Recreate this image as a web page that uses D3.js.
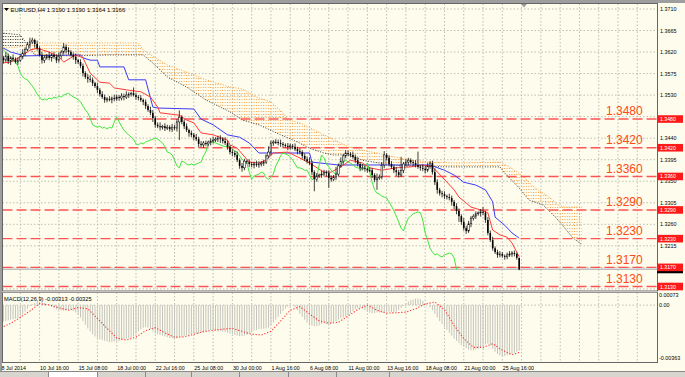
<!DOCTYPE html>
<html><head><meta charset="utf-8">
<script src="https://cdn.jsdelivr.net/npm/d3@7"></script>
<style>body{margin:0;background:#fff;overflow:hidden}svg{display:block}text{font-family:"Liberation Sans",Arial,sans-serif}</style>
</head><body>
<svg id="c" width="685" height="377"></svg>
<script>
// ---------- DATA (EURUSD H4, 8 Jul – 26 Aug 2014) ----------
const symbol = "EURUSD,H4";
const headerOHLC = "1.3190 1.3190 1.3164 1.3166";
const firstOpen = 1.3606;
const closes = [
1.3608,1.3603,1.3612,1.3601,1.3608,1.3605,1.3599,1.3603,1.3610,1.3618,1.3626,1.3635,
1.3641,1.3645,1.3637,1.3628,1.3614,1.3603,1.3608,1.3612,1.3608,1.3614,1.3610,1.3603,
1.3612,1.3620,1.3631,1.3624,1.3620,1.3614,1.3610,1.3603,1.3599,1.3591,1.3576,1.3568,
1.3564,1.3562,1.3555,1.3549,1.3541,1.3532,1.3526,1.3520,1.3522,1.3520,1.3524,1.3522,
1.3526,1.3524,1.3528,1.3526,1.3530,1.3532,1.3534,1.3530,1.3526,1.3524,1.3520,1.3516,
1.3507,1.3499,1.3493,1.3482,1.3468,1.3465,1.3463,1.3465,1.3461,1.3463,1.3459,1.3463,
1.3461,1.3474,1.3484,1.3474,1.3465,1.3457,1.3451,1.3447,1.3442,1.3438,1.3428,1.3426,
1.3430,1.3428,1.3432,1.3434,1.3436,1.3438,1.3440,1.3438,1.3434,1.3430,1.3422,1.3411,
1.3409,1.3405,1.3394,1.3382,1.3378,1.3392,1.3390,1.3386,1.3384,1.3386,1.3384,1.3386,
1.3388,1.3390,1.3403,1.3411,1.3430,1.3432,1.3432,1.3430,1.3428,1.3426,1.3424,1.3422,
1.3424,1.3422,1.3417,1.3413,1.3411,1.3403,1.3396,1.3392,1.3388,1.3369,1.3354,1.3361,
1.3363,1.3365,1.3369,1.3367,1.3357,1.3354,1.3359,1.3365,1.3382,1.3392,1.3403,1.3409,
1.3407,1.3405,1.3401,1.3394,1.3386,1.3378,1.3378,1.3376,1.3373,1.3373,1.3363,1.3353,
1.3357,1.3359,1.3384,1.3405,1.3399,1.3386,1.3380,1.3373,1.3369,1.3363,1.3373,1.3386,
1.3390,1.3394,1.3390,1.3388,1.3384,1.3380,1.3378,1.3376,1.3373,1.3382,1.3388,1.3369,
1.3348,1.3332,1.3325,1.3323,1.3319,1.3317,1.3315,1.3307,1.3298,1.3288,1.3277,1.3265,
1.3252,1.3246,1.3261,1.3273,1.3277,1.3282,1.3284,1.3286,1.3284,1.3269,1.3242,1.3227,
1.3210,1.3202,1.3196,1.3198,1.3194,1.3192,1.3196,1.3198,1.3200,1.3198,1.3190,1.3166];
// upper / lower shadow length in pips
const wickUp = [
6,4,8,5,3,7,4,6,5,8,4,6, 9,5,3,7,4,6,5,4,8,3,6,5, 7,4,8,5,6,4,5,7,3,6,5,4,
6,8,5,3,7,4,6,5,4,6,3,7, 5,4,6,5,8,4,3,12,5,4,6,3, 5,4,7,6,4,5,8,3,6,5,4,7,
5,6,14,4,5,6,3,5,4,7,5,6, 4,5,3,6,7,4,5,6,4,8,5,3, 6,5,7,4,6,5,3,6,4,5,7,6,
4,5,3,12,5,4,6,5,7,4,3,6, 5,4,7,5,6,4,5,6,8,5,4,6, 3,7,5,4,6,5,4,15,5,8,4,6,
5,4,7,5,6,4,8,5,3,6,5,4, 9,5,6,8,4,5,6,4,7,5,28,4, 6,5,4,4,6,28,4,7,5,6,4,5,
8,6,4,5,6,3,7,5,4,6,5,4, 8,5,6,4,4,5,3,6,10,4,6,5, 7,4,5,6,4,3,5,6,4,5,3,0];
const wickDn = [
5,7,4,6,8,5,3,6,4,5,7,4, 6,4,8,5,3,7,6,4,5,8,4,6, 5,6,4,7,5,3,6,8,4,5,7,4,
8,5,6,4,7,5,4,6,5,3,7,5, 4,6,5,7,4,6,5,3,6,5,4,7, 6,4,5,8,6,4,7,5,6,4,5,6,
4,7,38,5,6,4,8,5,6,4,7,5, 6,4,5,7,5,4,6,8,5,4,6,5, 7,5,4,6,8,5,4,6,5,7,4,6,
5,6,4,5,7,6,4,5,6,5,4,7, 6,5,4,7,5,6,4,5,4,6,25,5, 4,6,5,7,21,5,4,6,5,4,7,5,
5,5,4,6,5,7,4,6,5,4,6,5, 21,4,5,7,6,5,4,6,8,5,4,6, 5,7,4,6,5,4,6,5,7,4,6,5,
6,8,5,7,6,5,5,8,6,7,12,6, 5,6,4,7,5,6,4,8,5,6,5,4, 5,4,6,5,4,6,5,4,6,5,4,2];
// Ichimoku lines: [bar, price]
const tenkan = [[0,1.3597],[4,1.3599],[8,1.3610],[12,1.3624],[15,1.3628],[20,1.3620],[24,1.3610],[26,1.3599],[31,1.3614],[34,1.3608],[37,1.3576],[41,1.3557],[45,1.3555],[47,1.3545],[52,1.3541],[58,1.3537],[62,1.3526],[65,1.3505],[66,1.3493],[74,1.3488],[77,1.3478],[80,1.3472],[83,1.3451],[88,1.3447],[94,1.3436],[95,1.3426],[98,1.3419],[103,1.3390],[107,1.3388],[110,1.3394],[113,1.3409],[119,1.3411],[123,1.3401],[128,1.3388],[134,1.3369],[137,1.3369],[141,1.3380],[145,1.3394],[150,1.3388],[153,1.3378],[158,1.3373],[164,1.3378],[170,1.3380],[175,1.3384],[179,1.3380],[183,1.3359],[188,1.3332],[190,1.3317],[195,1.3296],[199,1.3290],[202,1.3284],[204,1.3248],[207,1.3238],[210,1.3233],[212,1.3221],[215,1.3192]];
const kijun = [[0,1.3631],[4,1.3620],[10,1.3612],[33,1.3614],[34,1.3608],[37,1.3603],[40,1.3603],[41,1.3589],[51,1.3589],[53,1.3562],[60,1.3562],[63,1.3505],[65,1.3503],[80,1.3501],[83,1.3480],[88,1.3468],[94,1.3447],[99,1.3442],[103,1.3430],[107,1.3409],[128,1.3409],[129,1.3390],[140,1.3384],[178,1.3384],[184,1.3373],[188,1.3363],[192,1.3348],[197,1.3342],[201,1.3332],[204,1.3307],[205,1.3275],[209,1.3258],[212,1.3242],[215,1.3231]];
const spanA = [[0,1.3660],[8,1.3656],[11,1.3635],[14,1.3614],[30,1.3612],[45,1.3614],[59,1.3614],[63,1.3597],[69,1.3568],[77,1.3547],[85,1.3520],[95,1.3495],[100,1.3478],[107,1.3468],[116,1.3447],[123,1.3432],[128,1.3419],[134,1.3409],[138,1.3405],[144,1.3405],[150,1.3394],[157,1.3388],[166,1.3382],[186,1.3380],[207,1.3380],[209,1.3367],[215,1.3336],[219,1.3311],[225,1.3300],[230,1.3275],[233,1.3258],[237,1.3233],[241,1.3217]];
const spanB = [[0,1.3628],[8,1.3631],[12,1.3637],[14,1.3639],[57,1.3639],[59,1.3624],[69,1.3593],[77,1.3578],[85,1.3562],[95,1.3547],[100,1.3543],[106,1.3526],[112,1.3516],[117,1.3493],[119,1.3478],[124,1.3472],[134,1.3447],[141,1.3430],[144,1.3422],[150,1.3415],[156,1.3409],[163,1.3401],[170,1.3394],[178,1.3390],[190,1.3388],[207,1.3390],[211,1.3380],[217,1.3359],[221,1.3338],[225,1.3325],[229,1.3311],[231,1.3300],[234,1.3296],[241,1.3296]];
const chikouShift = 26;
// MACD(12,26,9) main histogram, in 1e-5
const macdHist = [
-115,-112,-108,-104,-100,-97,-93,-88,-80,-65,-45,-25,
-8,6,15,22,24,20,14,6,-4,-12,-20,-28,
-33,-36,-38,-36,-33,-35,-40,-50,-65,-85,-110,-135,
-160,-180,-200,-215,-225,-235,-240,-245,-250,-255,-255,-250,
-248,-245,-240,-235,-232,-230,-225,-215,-200,-180,-165,-155,
-150,-155,-165,-180,-195,-200,-205,-210,-215,-220,-225,-228,
-230,-228,-222,-218,-212,-208,-205,-200,-195,-195,-195,-190,
-185,-180,-175,-172,-170,-175,-180,-180,-182,-185,-190,-195,
-200,-205,-210,-212,-212,-210,-205,-195,-185,-175,-170,-165,
-165,-162,-160,-155,-140,-120,-100,-80,-60,-40,-25,-12,
-5,-3,-15,-35,-60,-80,-100,-120,-130,-140,-145,-145,
-140,-130,-125,-130,-135,-130,-120,-110,-100,-90,-85,-80,
-70,-55,-40,-28,-20,-18,-25,-35,-45,-52,-55,-55,
-50,-50,-52,-50,-45,-45,-48,-50,-45,-35,-20,-5,
10,25,35,40,45,45,40,30,15,0,-15,-35,
-60,-85,-110,-130,-150,-170,-190,-210,-230,-245,-260,-275,
-285,-295,-305,-310,-310,-305,-300,-290,-280,-270,-265,-280,
-300,-320,-335,-345,-350,-350,-345,-340,-335,-328,-320,-313];
const macdSignal = [[0,-155],[4,-125],[8,-85],[12,-40],[16,10],[20,2],[24,-18],[28,-35],[32,-17],[36,-25],[40,-92],[44,-159],[48,-225],[52,-240],[56,-220],[60,-175],[64,-155],[68,-190],[72,-220],[76,-218],[80,-200],[84,-182],[88,-173],[92,-165],[96,-160],[100,-180],[104,-200],[108,-205],[112,-180],[116,-110],[120,-35],[124,-10],[128,-60],[132,-108],[136,-124],[140,-118],[144,-75],[148,-30],[152,0],[156,-35],[160,-55],[164,-52],[168,-48],[172,-25],[176,8],[180,21],[184,-30],[188,-140],[192,-230],[196,-290],[200,-290],[204,-265],[208,-310],[212,-340],[215,-325]];
const macdTitle = "MACD(12,26,9) -0.00313 -0.00325";
const macdTicks = [["0.00073",0.00073],["0.00",0],["-0.00363",-0.00363]];
const timeLabels = ["8 Jul 2014","10 Jul 16:00","15 Jul 08:00","18 Jul 00:00","22 Jul 16:00","25 Jul 08:00","30 Jul 00:00","1 Aug 16:00","6 Aug 08:00","11 Aug 00:00","13 Aug 16:00","18 Aug 08:00","21 Aug 00:00","25 Aug 16:00"];
const labelEvery = 16, gridEvery = 8;
const priceTicks = [1.3710,1.3665,1.3620,1.3575,1.3530,1.3485,1.3440,1.3395,1.3350,1.3305,1.3260,1.3215,1.3170];
const levels = [1.3480,1.3420,1.3360,1.3290,1.3230,1.3170,1.3130];
const bid = 1.3166;

// ---------- DRAWING ----------
const svg = d3.select("#c");
const W = 685, H = 377;
const L = 2.5, R = 657.5, mTop = 3.5, mBot = 291, dTop = 292.5, dBot = 362.5;
const bg = "#FEFCEC";
const x = d3.scaleLinear().domain([0, 215]).range([1, 519.2]);
const y = d3.scaleLinear().domain([1.3710, 1.3130]).range([9, 286.5]);
const yM = d3.scaleLinear().domain([0.00073, -0.00363]).range([294.5, 358]);
const pip = 0.0001;
const fmt = d3.format(".4f");

svg.append("rect").attr("width", W).attr("height", H).attr("fill", "#9E9E9E");
svg.append("rect").attr("x", 2).attr("y", 3).attr("width", W - 2).attr("height", 368).attr("fill", bg);
// bottom tab bar
svg.append("rect").attr("x", 0).attr("y", 371).attr("width", W).attr("height", 6).attr("fill", "#D8D5CF");
svg.append("line").attr("x1", 0).attr("x2", W).attr("y1", 371.5).attr("y2", 371.5).attr("stroke", "#8A8A8A");
svg.append("rect").attr("x", 48).attr("y", 372).attr("width", 49).attr("height", 5).attr("fill", "#fff");
[48, 97, 145, 191, 239, 288, 336, 389].forEach(v => svg.append("line").attr("x1", v + .5).attr("x2", v + .5).attr("y1", 372).attr("y2", 377).attr("stroke", "#8A8A8A"));

const defs = svg.append("defs");
defs.append("clipPath").attr("id", "cm").append("rect").attr("x", L).attr("y", mTop).attr("width", R - L).attr("height", mBot - mTop);
defs.append("clipPath").attr("id", "cd").append("rect").attr("x", L).attr("y", dTop).attr("width", R - L).attr("height", dBot - dTop);
const pO = defs.append("pattern").attr("id", "hO").attr("patternUnits", "userSpaceOnUse").attr("x", 0.5).attr("y", 0).attr("width", 2.41).attr("height", 3);
pO.append("rect").attr("width", 1).attr("height", 1).attr("fill", "#F7A24A");
const pD = defs.append("pattern").attr("id", "hD").attr("patternUnits", "userSpaceOnUse").attr("x", 0.5).attr("y", 0).attr("width", 2.41).attr("height", 3);
pD.append("rect").attr("width", 1).attr("height", 1).attr("fill", "#333");
// clip regions above / below span A
const aAbove = "M" + x(spanA[0][0]) + "," + 0 + spanA.map(d => "L" + x(d[0]) + "," + y(d[1])).join("") + "L" + x(spanA[spanA.length - 1][0]) + ",0Z";
const aBelow = "M" + x(spanA[0][0]) + "," + 400 + spanA.map(d => "L" + x(d[0]) + "," + y(d[1])).join("") + "L" + x(spanA[spanA.length - 1][0]) + ",400Z";
defs.append("clipPath").attr("id", "ab").append("path").attr("d", aAbove);
defs.append("clipPath").attr("id", "bl").append("path").attr("d", aBelow);

const main = svg.append("g").attr("clip-path", "url(#cm)");
const macd = svg.append("g").attr("clip-path", "url(#cd)");

// grid
const gridCol = "#BDBDB5";
for (let k = gridEvery; x(k) < R - 1; k += gridEvery) {
  main.append("line").attr("x1", x(k)).attr("x2", x(k)).attr("y1", mTop).attr("y2", mBot).attr("stroke", gridCol).attr("stroke-dasharray", "1.5,2");
  macd.append("line").attr("x1", x(k)).attr("x2", x(k)).attr("y1", dTop).attr("y2", dBot).attr("stroke", gridCol).attr("stroke-dasharray", "1.5,2");
}
priceTicks.concat([1.3125]).forEach(p => main.append("line").attr("x1", L).attr("x2", R).attr("y1", y(p)).attr("y2", y(p)).attr("stroke", gridCol).attr("stroke-dasharray", "1.5,2"));
macd.append("line").attr("x1", L).attr("x2", R).attr("y1", yM(0)).attr("y2", yM(0)).attr("stroke", gridCol).attr("stroke-dasharray", "1.5,2");

// cloud
const cloudPath = "M" + spanA.map(d => x(d[0]) + "," + y(d[1])).join("L") + "L" + spanB.slice().reverse().map(d => x(d[0]) + "," + y(d[1])).join("L") + "Z";
main.append("g").attr("clip-path", "url(#ab)").append("path").attr("d", cloudPath).attr("fill", "url(#hO)");
main.append("g").attr("clip-path", "url(#bl)").append("path").attr("d", cloudPath).attr("fill", "url(#hD)");
const ln = d3.line().x(d => x(d[0])).y(d => y(d[1]));
main.append("path").attr("d", ln(spanB)).attr("fill", "none").attr("stroke", "#F7A24A").attr("stroke-dasharray", "1,1.6");
main.append("path").attr("d", ln(spanA)).attr("fill", "none").attr("stroke", "#3A3A3A").attr("stroke-dasharray", "1,1.6");

// horizontal levels
levels.forEach(p => main.append("line").attr("x1", L).attr("x2", R).attr("y1", y(p)).attr("y2", y(p)).attr("stroke", "#FF5454").attr("stroke-width", 1.4).attr("stroke-dasharray", "10,4"));
// bid line
main.append("line").attr("x1", L).attr("x2", R).attr("y1", y(bid)).attr("y2", y(bid)).attr("stroke", "#BEBEBE").attr("stroke-width", 1.5);

// Tenkan, Kijun, Chikou
main.append("path").attr("d", ln(kijun)).attr("fill", "none").attr("stroke", "#3B3BF5").attr("stroke-width", 1);
main.append("path").attr("d", ln(tenkan)).attr("fill", "none").attr("stroke", "#FF3A3A").attr("stroke-width", 1);
const chikou = closes.map((c, i) => [i - chikouShift, c]).filter(d => d[0] >= 0);
main.append("path").attr("d", ln(chikou)).attr("fill", "none").attr("stroke", "#3EE63E").attr("stroke-width", 1);

// candles
const opens = [firstOpen].concat(closes.slice(0, -1));
const cg = main.append("g");
closes.forEach((c, i) => {
  const o = opens[i];
  const hi = Math.max(o, c) + wickUp[i] * pip, lo = Math.min(o, c) - wickDn[i] * pip;
  const cx = x(i);
  cg.append("line").attr("x1", cx).attr("x2", cx).attr("y1", y(hi)).attr("y2", y(lo)).attr("stroke", "#111").attr("stroke-width", 0.8);
  const top = y(Math.max(o, c)), bh = Math.max(0.8, y(Math.min(o, c)) - top);
  cg.append("rect").attr("x", cx - 0.8).attr("y", top).attr("width", 1.6).attr("height", bh)
    .attr("fill", c >= o ? "#fff" : "#000").attr("stroke", "#000").attr("stroke-width", c >= o ? 0.5 : 0);
});

// MACD
macdHist.forEach((v, i) => macd.append("line").attr("x1", x(i)).attr("x2", x(i)).attr("y1", yM(0)).attr("y2", yM(v * 1e-5)).attr("stroke", "#C4C4BC").attr("stroke-width", 1));
macd.append("path").attr("d", d3.line().x(d => x(d[0])).y(d => yM(d[1] * 1e-5))(macdSignal)).attr("fill", "none").attr("stroke", "#FF3030").attr("stroke-width", 1.1).attr("stroke-dasharray", "1.2,1.8");

// frames
svg.append("rect").attr("x", L).attr("y", mTop).attr("width", R - L).attr("height", mBot - mTop).attr("fill", "none").attr("stroke", "#666");
svg.append("rect").attr("x", L).attr("y", dTop).attr("width", R - L).attr("height", dBot - dTop).attr("fill", "none").attr("stroke", "#666");
svg.append("line").attr("x1", L).attr("x2", R).attr("y1", 291.8).attr("y2", 291.8).attr("stroke", "#C8C8C8").attr("stroke-width", 1.2);

// header
svg.append("path").attr("d", "M4,8 L9,8 L6.5,11 Z").attr("fill", "#000");
svg.append("text").attr("x", 10.5).attr("y", 12).attr("font-size", 6).attr("fill", "#000").text(symbol + "  " + headerOHLC);
svg.append("path").attr("d", "M521,4 L527,4 L524,7.5 Z").attr("fill", "#9A9A9A");

// price axis (ticks hidden behind a level box are not printed)
priceTicks.filter(p => levels.every(l => Math.abs(y(l) - y(p)) > 4))
  .forEach(p => svg.append("text").attr("x", 660).attr("y", y(p) + 2).attr("font-size", 5.4).attr("fill", "#000").text(fmt(p)));
// bid marker (its text lies under the 1.3170 box)
svg.append("rect").attr("x", 657).attr("y", y(bid) - 3.5).attr("width", 26).attr("height", 7.5).attr("fill", "#000");
levels.forEach(p => {
  svg.append("rect").attr("x", 657).attr("y", y(p) - 3.8).attr("width", 26).attr("height", 7.6).attr("fill", "#FF1A1A");
  svg.append("text").attr("x", 660).attr("y", y(p) + 2).attr("font-size", 5.2).attr("fill", "#fff").text(fmt(p));
  svg.append("text").attr("x", 606).attr("y", y(p) - 3.6).attr("font-size", 12).attr("fill", "#FF4A14").text(fmt(p));
});
// MACD axis
macdTicks.forEach(t => svg.append("text").attr("x", 659).attr("y", yM(t[1]) + 2).attr("font-size", 5.4).attr("fill", "#000").text(t[0]));
svg.append("text").attr("x", 4).attr("y", 300.5).attr("font-size", 5.7).attr("fill", "#000").text(macdTitle);

// time axis
timeLabels.forEach((t, k) => svg.append("text").attr("x", x(k * labelEvery) + 0.5).attr("y", 369.5).attr("font-size", 5.3).attr("fill", "#000").text(t));
</script>
</body></html>
